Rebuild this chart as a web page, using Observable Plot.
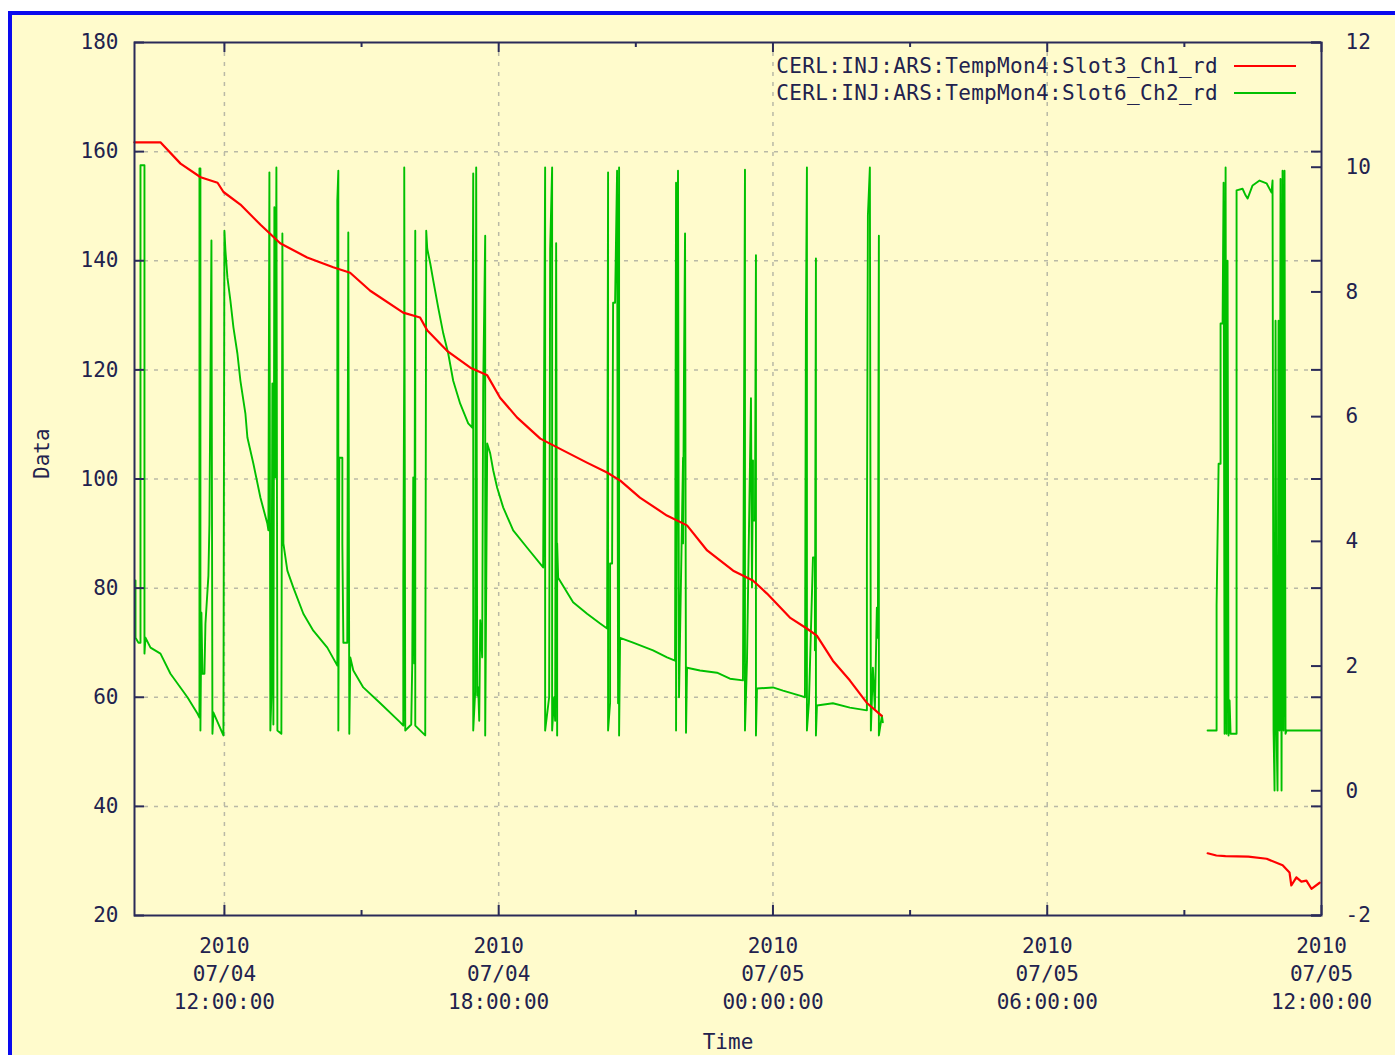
<!DOCTYPE html>
<html><head><meta charset="utf-8">
<script src="https://cdn.jsdelivr.net/npm/d3@7"></script>
<script src="https://cdn.jsdelivr.net/npm/@observablehq/plot@0.6"></script>
<style>
html,body{margin:0;padding:0;background:#fff;}
#wrap{position:relative;width:1395px;height:1055px;overflow:hidden;}
#bg{position:absolute;left:8px;top:11px;width:1420px;height:1120px;background:#fffbcc;border-top:4px solid #0a0aee;border-left:4px solid #0a0aee;}
#chart{position:absolute;left:0;top:0;}
#legend{position:absolute;right:99px;top:52px;font-family:"DejaVu Sans Mono",monospace;font-size:21px;letter-spacing:0.35px;color:#22224e;}
#legend .row{display:flex;align-items:center;justify-content:flex-end;height:27px;}
#legend .sw{display:inline-block;width:62px;height:2px;margin-left:16px;}
</style></head>
<body><div id="wrap"><div id="bg"></div><div id="chart"></div><div id="legend"></div></div>
<script>
// ---- data (time in hours since 2010-07-04 00:00) ----
const seriesNames = ["CERL:INJ:ARS:TempMon4:Slot3_Ch1_rd", "CERL:INJ:ARS:TempMon4:Slot6_Ch2_rd"];
const seriesColors = ["#ff0000", "#00c000"];

const redHours = [10.03,10.60,11.04,11.48,11.85,11.98,12.35,12.79,13.22,13.81,14.38,14.75,15.19,15.91,16.28,16.44,16.87,17.38,17.75,18.03,18.40,18.91,19.28,19.93,20.37,20.66,21.09,21.68,22.12,22.56,23.13,23.56,23.87,24.37,24.74,24.96,25.31,25.68,26.05,26.38,
  30.00,
  33.51,33.70,33.90,34.40,34.80,35.15,35.30,35.34,35.45,35.56,35.67,35.78,35.96];
const redValues = [161.7,161.7,157.8,155.3,154.3,152.6,150.3,146.6,143.2,140.6,138.8,137.8,134.5,130.5,129.6,127.2,123.5,120.4,119.0,114.9,111.3,107.4,105.8,103.0,101.2,99.7,96.6,93.3,91.5,86.9,83.2,81.4,79.0,74.6,72.6,71.3,66.7,63.1,59.0,56.6,
  null,
  31.4,31.0,30.9,30.8,30.4,29.2,27.9,25.5,27.0,26.2,26.4,24.9,26.0];

const greenHours = [10.055,10.055,10.120,10.164,10.164,10.251,10.251,10.273,10.383,10.601,10.820,11.191,11.410,11.454,11.454,11.475,11.475,11.497,11.519,11.563,
  11.585,11.650,11.672,11.716,11.738,11.760,11.978,12.000,12.022,12.066,12.131,12.197,12.284,12.350,12.459,12.503,12.634,12.787,12.940,12.962,
  12.984,13.005,13.027,13.049,13.071,13.093,13.115,13.137,13.159,13.246,13.268,13.290,13.377,13.508,13.727,13.945,14.251,14.470,14.470,14.492,
  14.492,14.514,14.580,14.580,14.602,14.688,14.710,14.732,14.754,14.820,15.038,15.410,15.847,15.913,15.913,15.934,15.934,15.956,16.087,16.109,
  16.131,16.153,16.175,16.175,16.393,16.415,16.437,16.503,16.568,16.677,16.787,16.896,17.005,17.158,17.333,17.421,17.443,17.443,17.486,17.508,
  17.530,17.552,17.574,17.596,17.639,17.661,17.705,17.705,17.749,17.814,17.880,17.967,18.098,18.317,18.623,18.973,19.016,19.016,19.104,19.126,
  19.169,19.169,19.213,19.235,19.257,19.279,19.279,19.301,19.628,19.934,20.219,20.372,20.393,20.393,20.437,20.437,20.481,20.503,20.546,20.590,
  20.612,20.634,20.634,20.656,20.940,21.377,21.683,21.858,21.880,21.880,21.923,21.945,22.033,22.033,22.055,22.077,22.098,22.120,22.404,22.776,
  23.060,23.344,23.388,23.388,23.432,23.519,23.541,23.563,23.563,23.606,23.628,23.628,23.650,24.000,24.219,24.590,24.700,24.721,24.743,24.743,
  24.787,24.875,24.918,24.918,24.940,24.940,24.962,25.311,25.683,26.055,26.055,26.077,26.120,26.142,26.186,26.230,26.273,26.295,26.317,26.317,
  26.383,26.404,
  30.000,
  33.508,33.705,33.705,33.749,33.792,33.792,33.836,33.858,33.880,33.902,33.923,33.945,33.967,33.989,34.011,34.142,34.142,34.273,34.339,34.383,
  34.492,34.645,34.798,34.907,34.929,34.951,34.973,34.995,35.016,35.038,35.060,35.082,35.104,35.126,35.148,35.170,35.191,35.213,35.235,35.978];
const greenValues = [81.4,70.9,70.0,70.0,157.5,157.5,68.0,70.9,69.1,68.0,64.3,60.0,57.0,56.3,156.9,156.9,53.9,75.5,64.3,64.3,
  73.5,82.3,91.8,143.7,53.3,57.2,53.0,145.5,141.9,136.9,132.7,127.8,123.0,118.0,112.0,107.6,102.8,96.6,91.8,90.6,
  156.2,53.9,60.0,117.5,55.0,149.8,100.3,157.1,53.9,53.3,145.0,88.2,83.2,80.1,75.3,72.2,69.1,65.8,151.0,156.5,
  53.9,103.9,103.9,88.2,70.0,70.0,145.2,53.3,67.3,64.9,61.8,58.9,55.4,54.8,81.4,122.3,157.1,53.9,55.0,66.2,
  100.3,66.2,145.5,54.8,53.0,145.5,142.2,139.5,136.4,131.4,126.7,123.0,118.0,113.8,110.2,109.4,156.0,53.9,61.0,157.1,
  60.3,61.8,55.7,74.1,67.3,116.8,144.6,53.0,106.5,104.7,101.6,98.4,94.8,90.6,87.4,83.8,157.1,53.9,60.0,142.2,
  157.1,53.9,60.0,55.7,143.2,53.0,88.2,81.9,77.4,75.3,73.5,72.6,156.2,53.9,59.0,84.5,84.5,132.3,132.3,156.5,
  58.9,157.1,53.0,70.9,70.0,68.6,67.3,66.7,154.3,53.9,156.5,60.0,103.9,88.2,121.2,145.0,53.5,65.4,64.9,64.5,
  63.4,63.1,156.7,53.9,66.7,114.8,80.1,103.4,92.4,92.4,141.0,53.0,61.6,61.8,61.2,60.3,60.0,128.5,157.1,53.9,
  59.0,85.6,85.6,68.6,140.4,53.0,58.5,58.9,58.1,57.6,87.4,148.3,157.1,53.9,65.4,58.0,76.4,70.9,144.6,53.0,
  56.6,55.4,
  null,
  53.9,53.9,76.8,102.8,102.8,128.5,128.5,154.3,53.3,157.1,53.3,140.0,53.0,59.4,53.3,53.3,152.9,153.2,152.0,151.4,
  153.8,154.7,154.2,152.5,154.7,53.9,42.9,129.0,53.9,42.9,129.0,53.9,155.0,42.9,156.5,53.9,156.5,53.3,53.9,53.9];

// axes
const leftTicks = [20, 40, 60, 80, 100, 120, 140, 160, 180];
const gridValues = [40, 60, 80, 100, 120, 140, 160];
const rightTicks = [-2, 0, 2, 4, 6, 8, 10, 12];
const leftDomain = [20, 180];
const rightDomain = [-2, 12];
const majorHours = [12, 18, 24, 30, 36];
const minorHours = [15, 21, 27, 33];
const gridHours = [12, 18, 24, 30];
const domainHours = [10.033, 36];

// ---- build ----
const toDate = h => new Date(Date.UTC(2010, 6, 4) + h * 3600e3);
const red = redHours.map((h, i) => ({t: toDate(h), v: redValues[i]}));
const green = greenHours.map((h, i) => ({t: toDate(h), v: greenValues[i]}));
const r2l = r => leftDomain[0] + (r - rightDomain[0]) * (leftDomain[1] - leftDomain[0]) / (rightDomain[1] - rightDomain[0]);
const l2r = l => rightDomain[0] + (l - leftDomain[0]) * (rightDomain[1] - rightDomain[0]) / (leftDomain[1] - leftDomain[0]);
const rightPos = rightTicks.map(r2l);

const W = 1395, H = 1055, mL = 134, mR = 74, mT = 42, mB = 140;
const pw = W - mL - mR, ph = H - mT - mB;
const ink = "#2a2a58";
const gridStyle = {stroke: "#b9b9a6", strokeOpacity: 1, strokeWidth: 1.5, strokeDasharray: "4,6"};

const chart = Plot.plot({
  width: W, height: H,
  marginLeft: mL, marginRight: mR, marginTop: mT, marginBottom: mB,
  style: {fontFamily: "'DejaVu Sans Mono', monospace", fontSize: "21px", color: "#22224e", background: "transparent", overflow: "visible"},
  x: {type: "utc", domain: domainHours.map(toDate)},
  y: {domain: leftDomain},
  marks: [
    Plot.gridY(gridValues, gridStyle),
    Plot.gridX(gridHours.map(toDate), gridStyle),
    Plot.line(green, {x: "t", y: "v", stroke: seriesColors[1], strokeWidth: 1.9}),
    Plot.line(red, {x: "t", y: "v", stroke: seriesColors[0], strokeWidth: 2.2}),
    Plot.frame({stroke: ink, strokeWidth: 2}),
    Plot.tickY(leftTicks, {y: d => d, insetRight: pw - 10, stroke: ink, strokeWidth: 2}),
    Plot.tickY(leftTicks, {y: d => d, insetLeft: pw - 10, stroke: ink, strokeWidth: 2}),
    Plot.tickY(rightPos, {y: d => d, insetLeft: pw - 10, stroke: ink, strokeWidth: 2}),
    Plot.tickX(majorHours.map(toDate), {x: d => d, insetTop: ph - 10, stroke: ink, strokeWidth: 2}),
    Plot.tickX(majorHours.map(toDate), {x: d => d, insetBottom: ph - 10, stroke: ink, strokeWidth: 2}),
    Plot.tickX(minorHours.map(toDate), {x: d => d, insetTop: ph - 5, stroke: ink, strokeWidth: 2}),
    Plot.tickX(minorHours.map(toDate), {x: d => d, insetBottom: ph - 5, stroke: ink, strokeWidth: 2}),
    Plot.axisY({anchor: "left", ticks: leftTicks, tickSize: 0, tickPadding: 16, label: null, tickFormat: d => String(d)}),
    Plot.axisY({anchor: "right", ticks: rightPos, tickSize: 0, tickPadding: 24, label: null, tickFormat: d => String(Math.round(l2r(d)))}),
    Plot.axisX({anchor: "bottom", ticks: majorHours.map(toDate), tickSize: 0, tickPadding: 18, label: null,
      tickFormat: d3.utcFormat("%Y\n%m/%d\n%H:%M:%S"), lineHeight: 1.333}),
    Plot.text(["Data"], {frameAnchor: "left", dx: -92, rotate: -90, fill: "#22224e"}),
    Plot.text(["Time"], {frameAnchor: "bottom", dy: 133, fill: "#22224e"})
  ]
});
document.getElementById("chart").appendChild(chart);

const leg = document.getElementById("legend");
seriesNames.forEach((n, i) => {
  const row = document.createElement("div");
  row.className = "row";
  const s = document.createElement("span"); s.textContent = n;
  const sw = document.createElement("span"); sw.className = "sw"; sw.style.background = seriesColors[i];
  row.appendChild(s); row.appendChild(sw); leg.appendChild(row);
});
</script></body></html>
